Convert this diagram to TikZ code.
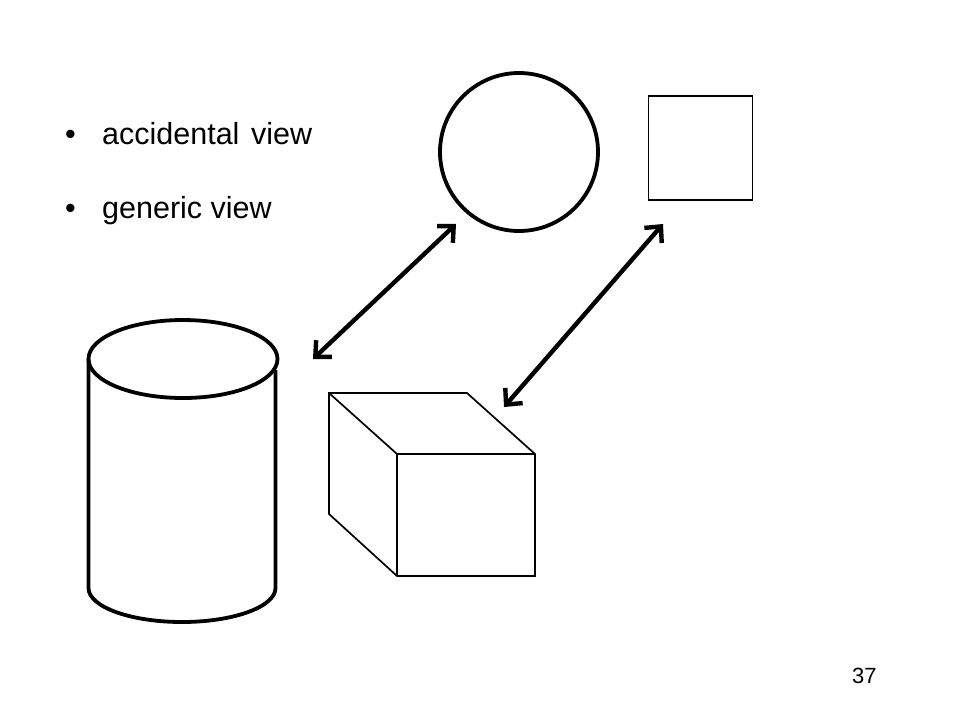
\documentclass[tikz,border=0pt]{standalone}
\usepackage{fontspec}
\setmainfont{Liberation Sans}
\usetikzlibrary{arrows.meta}
\begin{document}
\begin{tikzpicture}[x=1pt,y=-1pt,
  thick3/.style={line width=3.8pt},
  thin15/.style={line width=1.7pt, line join=miter},
  biarrow/.style={line width=4.4pt, {Straight Barb[length=12pt,width=23pt]}-{Straight Barb[length=12pt,width=23pt]}},
  bullettext/.style={anchor=base west, inner sep=0pt, font=\fontsize{30.5}{36}\selectfont}]
\useasboundingbox (0,0) rectangle (960,720);
\fill[white] (0,0) rectangle (960,720);
% bullets
\node[bullettext] (b1) at (65,144) {•};
\node[bullettext] (t1) at (102,144) {accidental};
\node[bullettext] (t1b) at (251,144) {view};
\node[bullettext] (b2) at (65,218) {•};
\node[bullettext] (t2) at (102,218) {generic view};
% circle and square
\node[draw, thick3, circle, minimum size=158pt, inner sep=0pt] (circ) at (519,152) {};
\node[draw, thin15, rectangle, minimum width=104pt, minimum height=104pt, inner sep=0pt] (sq) at (700.5,148) {};
% cylinder
\draw[thick3] (183,359) ellipse [x radius=94.5, y radius=39];
\draw[thick3] (88.5,359) -- (88.5,588) arc[start angle=180, end angle=0, x radius=93.5, y radius=34] -- (275.5,370);
% cube
\coordinate (c1) at (329,393);
\coordinate (c2) at (467,393);
\coordinate (c3) at (397,454);
\coordinate (c4) at (535,454);
\coordinate (c5) at (535,576);
\coordinate (c6) at (397,576);
\coordinate (c7) at (329,514);
\draw[thin15] (c1) -- (c2) -- (c4) -- (c5) -- (c6) -- (c7) -- cycle;
\draw[thin15] (c1) -- (c3) -- (c4);
\draw[thin15] (c3) -- (c6);
% arrows
\coordinate (a1s) at (313,359);
\coordinate (a1e) at (456,224);
\coordinate (a2s) at (504,407);
\coordinate (a2e) at (663,224);
\draw[biarrow] (a1s) -- (a1e);
\draw[biarrow] (a2s) -- (a2e);
% page number
\node[anchor=base west, inner sep=0pt, font=\fontsize{22}{26}\selectfont] (pn) at (852,683) {37};
\end{tikzpicture}
\end{document}
